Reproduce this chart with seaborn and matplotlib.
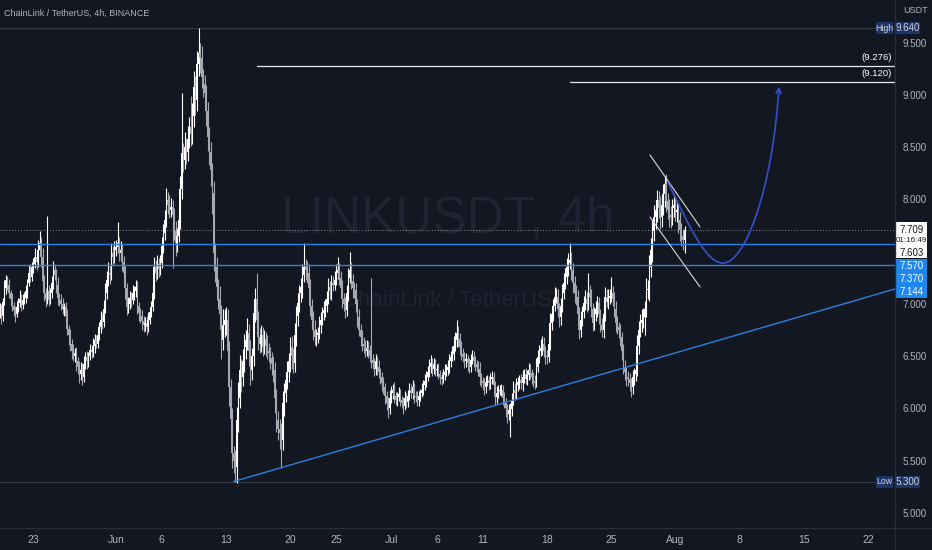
import numpy as np
import pandas as pd
import matplotlib
matplotlib.use("Agg")
import matplotlib.pyplot as plt
import matplotlib.dates as mdates
import seaborn as sns
from matplotlib.patches import Rectangle, FancyArrowPatch
from matplotlib.path import Path
from matplotlib.lines import Line2D
from matplotlib.transforms import blended_transform_factory

# -----------------------------
# Data: LINKUSDT 4h candles, 2022-05-19 08:00 -> 2022-08-02 00:00
# -----------------------------
start_time = "2022-05-19 08:00"
first_open = 6.91

closes = [
    6.95, 6.88, 7.02, 7.15,                     # May 19
    7.23, 7.18, 7.10, 7.05, 6.98, 6.94,         # May 20
    6.90, 6.97, 7.01, 7.05, 6.99, 7.04,
    7.06, 7.12, 7.20, 7.30, 7.26, 7.35,
    7.38, 7.45, 7.40, 7.52, 7.58, 7.45,
    7.22, 7.10, 7.05, 7.12, 7.04, 7.10,
    7.20, 7.32, 7.28, 7.18, 7.06, 7.04,         # May 25
    7.00, 6.95, 6.97, 6.88, 6.76, 6.70,
    6.62, 6.55, 6.50, 6.53, 6.45, 6.40,
    6.33, 6.37, 6.30, 6.42, 6.49, 6.45,
    6.50, 6.56, 6.54, 6.60, 6.65, 6.62,
    6.70, 6.78, 6.85, 6.83, 6.95, 7.10,         # May 30
    7.23, 7.30, 7.28, 7.49, 7.45, 7.52,
    7.54, 7.58, 7.49, 7.52, 7.40, 7.30,         # Jun 1
    7.15, 6.97, 7.00, 7.06, 7.04, 7.10,
    7.12, 7.16, 6.98, 6.91, 6.88, 6.84,
    6.80, 6.82, 6.78, 6.85, 6.92, 6.97,
    7.10, 7.35, 7.30, 7.38, 7.33, 7.39,         # Jun 5
    7.55, 7.68, 7.80, 7.99, 7.95, 7.90,
    7.93, 7.85, 7.70, 7.58, 7.65, 7.80,
    8.10, 8.44, 8.38, 8.50, 8.45, 8.58,
    8.69, 8.63, 8.80, 9.08, 8.95, 9.30,
    9.40, 9.35, 9.17, 9.10, 9.02, 8.85,         # Jun 10
    8.60, 8.45, 8.28, 8.06, 7.49, 7.35,
    7.16, 7.05, 6.90, 6.65, 6.80, 6.85,
    6.85, 6.55, 6.20, 5.90, 5.57, 5.50,
    5.44, 5.89, 6.10, 6.37, 6.30, 6.45,
    6.59, 6.65, 6.72, 6.55, 6.37, 6.50,         # Jun 15
    6.91, 7.05, 6.85, 6.68, 6.62, 6.70,
    6.59, 6.66, 6.60, 6.55, 6.53, 6.48,
    6.42, 6.37, 6.10, 5.89, 5.80, 5.76,
    5.70, 6.05, 6.15, 6.27, 6.35, 6.45,
    6.59, 6.50, 6.43, 6.70, 6.88, 7.01,         # Jun 20
    7.10, 7.16, 7.28, 7.35, 7.32, 7.30,
    7.15, 6.98, 6.85, 6.75, 6.68, 6.70,
    6.72, 6.80, 6.85, 6.91, 6.94, 6.98,
    7.05, 7.16, 7.12, 7.20, 7.18, 7.23,
    7.30, 7.32, 7.25, 7.15, 7.05, 7.00,         # Jun 25
    6.94, 7.10, 7.25, 7.32, 7.22, 7.15,
    7.13, 7.00, 6.87, 6.75, 6.68, 6.62,
    6.60, 6.55, 6.58, 6.56, 6.50, 6.46,
    6.43, 6.38, 6.45, 6.40, 6.35, 6.30,
    6.24, 6.20, 6.12, 6.05, 6.00, 6.10,         # Jun 30
    6.15, 6.18, 6.12, 6.08, 6.11, 6.14,         # Jul 1
    6.08, 6.05, 6.02, 6.10, 6.06, 6.12,
    6.18, 6.15, 6.20, 6.12, 6.11, 6.08,
    6.12, 6.15, 6.18, 6.22, 6.26, 6.30,
    6.35, 6.40, 6.43, 6.38, 6.42, 6.37,         # Jul 5
    6.37, 6.33, 6.30, 6.28, 6.32, 6.35,
    6.37, 6.40, 6.45, 6.49, 6.52, 6.60,
    6.65, 6.72, 6.66, 6.59, 6.52, 6.49,
    6.45, 6.47, 6.43, 6.40, 6.46, 6.49,
    6.45, 6.42, 6.40, 6.38, 6.30, 6.26,         # Jul 10
    6.24, 6.20, 6.25, 6.27, 6.24, 6.28,
    6.30, 6.22, 6.11, 6.15, 6.17, 6.18,
    6.18, 6.10, 6.05, 6.00, 5.95, 5.98,
    5.99, 6.08, 6.18, 6.15, 6.22, 6.25,
    6.27, 6.24, 6.30, 6.33, 6.28, 6.32,         # Jul 15
    6.37, 6.34, 6.30, 6.26, 6.24, 6.40,
    6.49, 6.55, 6.58, 6.62, 6.55, 6.50,
    6.49, 6.62, 6.82, 6.90, 6.98, 7.07,
    7.07, 6.95, 6.87, 6.98, 7.10, 7.20,
    7.26, 7.35, 7.39, 7.42, 7.32, 7.20,         # Jul 20
    7.10, 7.07, 6.90, 6.75, 6.85, 6.92,
    7.01, 7.05, 7.00, 7.10, 7.07, 6.95,
    6.82, 6.90, 6.95, 7.01, 6.90, 6.80,
    6.75, 6.90, 7.07, 7.02, 7.06, 7.08,
    7.10, 7.05, 6.95, 6.82, 6.78, 6.75,         # Jul 25
    6.68, 6.55, 6.40, 6.35, 6.30, 6.28,
    6.24, 6.20, 6.30, 6.33, 6.37, 6.60,
    6.75, 6.82, 6.85, 6.87, 6.95, 7.13,
    7.13, 7.35, 7.52, 7.70, 7.83, 7.90,
    7.99, 7.92, 7.83, 7.95, 8.05, 8.15,         # Jul 30
    7.98, 7.90, 7.85, 7.83, 7.92, 7.95,
    7.88, 7.90, 7.80, 7.71, 7.65, 7.61,         # Aug 1
    7.709,                                      # Aug 2
]

# wick lengths above / below the body, in cents
wick_up = [
    6, 5, 4, 8,
    5, 4, 6, 3, 5, 4,
    4, 6, 5, 8, 4, 5,
    5, 6, 4, 7, 8, 5,
    6, 8, 5, 9, 12, 6,
    8, 6, 5, 72, 6, 5,
    7, 9, 6, 5, 8, 4,
    5, 6, 4, 5, 7, 4,
    6, 4, 7, 5, 6, 4,
    5, 7, 6, 8, 5, 6,
    4, 6, 5, 7, 6, 5,
    6, 5, 8, 6, 9, 10,
    8, 10, 7, 9, 6, 8,
    7, 20, 6, 8, 5, 6,
    6, 5, 7, 6, 5, 8,
    5, 7, 6, 4, 5, 6,
    4, 5, 6, 7, 5, 6,
    8, 10, 7, 9, 6, 8,
    9, 8, 10, 12, 8, 9,
    8, 6, 7, 9, 8, 10,
    12, 58, 10, 14, 9, 12,
    10, 30, 12, 15, 10, 12,
    24, 10, 12, 8, 9, 7,
    8, 9, 10, 7, 12, 9,
    10, 8, 12, 9, 15, 10,
    12, 10, 9, 8, 10, 7,
    10, 12, 15, 14, 10, 12,
    12, 10, 14, 9, 10, 8,
    12, 10, 25, 8, 9, 10,
    8, 9, 7, 10, 8, 6,
    6, 8, 7, 9, 8, 10,
    10, 12, 9, 8, 10, 8,
    9, 10, 8, 12, 10, 9,
    8, 9, 10, 23, 8, 9,
    8, 9, 7, 8, 10, 6,
    6, 8, 7, 6, 9, 7,
    7, 9, 6, 8, 7, 8,
    8, 13, 7, 6, 8, 5,
    7, 8, 9, 18, 8, 7,
    6, 7, 5, 8, 6, 7,
    6, 5, 7, 6, 5, 75,
    6, 5, 7, 5, 6, 4,
    5, 6, 4, 5, 6, 8,
    6, 5, 7, 4, 5, 6,
    5, 4, 6, 7, 5, 6,
    6, 5, 7, 4, 5, 6,
    5, 4, 6, 5, 7, 6,
    6, 7, 8, 5, 6, 5,
    5, 6, 4, 5, 6, 7,
    5, 6, 7, 6, 8, 9,
    8, 13, 7, 6, 5, 6,
    5, 6, 4, 5, 6, 7,
    6, 5, 4, 5, 6, 4,
    4, 5, 6, 5, 4, 6,
    6, 5, 4, 6, 5, 4,
    5, 4, 6, 5, 4, 6,
    6, 7, 8, 6, 7, 5,
    5, 6, 7, 5, 6, 5,
    6, 5, 4, 5, 6, 8,
    7, 6, 8, 7, 6, 5,
    6, 8, 9, 8, 7, 9,
    8, 7, 6, 8, 9, 10,
    8, 9, 10, 16, 8, 7,
    7, 8, 6, 7, 8, 6,
    7, 8, 6, 20, 8, 7,
    6, 7, 8, 7, 6, 5,
    6, 8, 9, 7, 8, 6,
    16, 7, 6, 8, 6, 5,
    6, 5, 7, 6, 5, 6,
    6, 5, 7, 6, 8, 10,
    9, 8, 10, 9, 8, 12,
    10, 12, 11, 10, 12, 9,
    10, 9, 11, 8, 10, 7,
    9, 8, 10, 9, 8, 10,
    8, 9, 7, 8, 6, 7,
    4,
]

wick_dn = [
    5, 7, 4, 3,
    6, 5, 4, 7, 5, 6,
    7, 3, 5, 4, 6, 4,
    4, 5, 6, 3, 5, 4,
    5, 4, 8, 5, 6, 10,
    9, 7, 8, 5, 6, 4,
    4, 6, 5, 8, 7, 6,
    6, 5, 7, 8, 6, 9,
    7, 8, 5, 6, 9, 7,
    9, 6, 8, 5, 4, 7,
    5, 4, 6, 5, 7, 4,
    4, 5, 6, 7, 5, 4,
    5, 6, 9, 5, 8, 6,
    6, 5, 8, 6, 9, 7,
    10, 8, 6, 5, 7, 4,
    6, 5, 8, 7, 6, 9,
    7, 6, 8, 5, 4, 5,
    4, 5, 8, 6, 7, 5,
    5, 6, 7, 6, 9, 8,
    7, 51, 9, 12, 8, 6,
    8, 10, 12, 9, 11, 8,
    9, 12, 10, 11, 14, 10,
    12, 14, 10, 12, 11, 15,
    14, 12, 15, 20, 18, 14,
    12, 10, 14, 18, 9, 12,
    15, 12, 18, 16, 14, 12,
    14, 15, 12, 10, 14, 9,
    10, 12, 9, 14, 15, 10,
    9, 8, 10, 12, 9, 8,
    9, 7, 10, 8, 9, 10,
    10, 12, 14, 12, 10, 15,
    27, 10, 12, 9, 8, 10,
    10, 12, 9, 8, 10, 9,
    9, 8, 10, 7, 9, 10,
    9, 10, 8, 10, 7, 8,
    7, 6, 8, 5, 6, 7,
    6, 5, 7, 8, 6, 5,
    5, 6, 7, 8, 9, 7,
    8, 6, 7, 5, 8, 9,
    7, 8, 9, 6, 8, 7,
    7, 6, 5, 8, 6, 7,
    5, 7, 6, 8, 6, 7,
    7, 6, 8, 7, 9, 5,
    5, 6, 7, 5, 6, 4,
    6, 5, 7, 4, 6, 5,
    4, 5, 6, 7, 5, 6,
    6, 5, 4, 5, 4, 6,
    4, 5, 6, 7, 5, 6,
    6, 5, 7, 6, 4, 5,
    4, 5, 6, 5, 4, 6,
    5, 6, 7, 8, 6, 5,
    6, 5, 7, 6, 5, 4,
    5, 6, 5, 7, 8, 6,
    6, 7, 5, 4, 6, 5,
    5, 6, 8, 6, 5, 4,
    6, 7, 5, 8, 9, 6,
    25, 6, 5, 7, 6, 5,
    6, 5, 7, 6, 5, 6,
    5, 6, 7, 6, 5, 4,
    5, 6, 5, 7, 6, 8,
    7, 5, 6, 7, 6, 5,
    6, 8, 9, 7, 6, 5,
    6, 7, 8, 6, 9, 10,
    9, 8, 10, 9, 7, 6,
    6, 7, 8, 6, 9, 8,
    8, 7, 6, 8, 9, 7,
    7, 8, 6, 5, 7, 6,
    6, 7, 8, 9, 7, 8,
    8, 9, 7, 8, 9, 7,
    7, 9, 6, 8, 7, 6,
    8, 7, 9, 8, 17, 8,
    8, 10, 9, 12, 10, 11,
    12, 10, 11, 9, 10, 12,
    10, 9, 11, 10, 8, 9,
    9, 10, 12, 11, 10, 9,
    12,
]

# drawings
high_price, low_price = 9.640, 5.300
last_price = 7.709
blue_levels = [7.570, 7.370]
target_levels = [9.276, 9.120]
target_starts = ["2022-06-16 10:00", "2022-07-20 12:00"]
trend_dates = ["2022-06-13 20:00", "2022-08-25 00:00"]
trend_prices = [5.300, 7.144]
channel_dates = ["2022-07-29 05:30", "2022-08-03 16:30"]
channel_upper = [8.425, 7.736]
channel_lower = [7.831, 7.162]
curve_dates = ["2022-07-31 04:48", "2022-08-02 12:00", "2022-08-04 07:12", "2022-08-06 04:48",
               "2022-08-08 14:24", "2022-08-11 14:24", "2022-08-12 07:12"]
curve_prices = [8.16, 7.75, 7.39, 7.39, 7.39, 8.10, 9.08]

tick_dates = ["2022-05-23", "2022-06-01", "2022-06-06", "2022-06-13", "2022-06-20", "2022-06-25",
              "2022-07-01", "2022-07-06", "2022-07-11", "2022-07-18", "2022-07-25", "2022-08-01",
              "2022-08-08", "2022-08-15", "2022-08-22"]
tick_labels = ["23", "Jun", "6", "13", "20", "25", "Jul", "6", "11", "18", "25", "Aug", "8", "15", "22"]
price_ticks = [5.0, 5.5, 6.0, 6.5, 7.0, 8.0, 8.5, 9.0, 9.5]

# -----------------------------
# Style
# -----------------------------
BG = "#131722"
TXT = "#b2b5be"
BLUE = "#2f7fe8"
DARKBLUE = "#1c3564"

sns.set_theme(style="dark", rc={"axes.facecolor": BG, "figure.facecolor": BG})
plt.rcParams["font.family"] = ["Liberation Sans", "DejaVu Sans"]

fig = plt.figure(figsize=(9.32, 5.5), dpi=100)
ax = fig.add_axes([0, 22 / 550, 895 / 932, 528 / 550])
ax.set_facecolor(BG)

num = lambda s: mdates.date2num(pd.to_datetime(s))

# -----------------------------
# Candles
# -----------------------------
times = pd.date_range(start_time, periods=len(closes), freq="4h")
t = mdates.date2num(times)
c = np.array(closes)
o = np.array([first_open] + closes[:-1])
hi = np.maximum(o, c) + np.array(wick_up) / 100
lo = np.minimum(o, c) - np.array(wick_dn) / 100
cols = np.where(c >= o, "#ffffff", "#a5a8b1")

ax.vlines(t, lo, hi, colors=cols, lw=0.8, zorder=3)
ax.bar(t, np.maximum(np.abs(c - o), 0.01), bottom=np.minimum(o, c), width=0.155,
       color=cols, lw=0, zorder=4)

# -----------------------------
# Watermark
# -----------------------------
ax.text(0.5, 0.585, "LINKUSDT, 4h", transform=ax.transAxes, ha="center", va="center",
        fontsize=37, color="#1f2332", zorder=1)
ax.text(0.5, 0.43, "ChainLink / TetherUS", transform=ax.transAxes, ha="center", va="center",
        fontsize=16, color="#1f2332", zorder=1)

# -----------------------------
# Lines and drawings
# -----------------------------
ax.axhline(high_price, color="#363a45", lw=0.8, zorder=2)
ax.axhline(low_price, color="#363a45", lw=0.8, zorder=2)
ax.axhline(last_price, color="#8a8d96", lw=0.7, ls=(0, (1, 2)), zorder=2)
for lvl in blue_levels:
    ax.axhline(lvl, color=BLUE, lw=1.0, zorder=5)

xmin, xmax = num("2022-05-19 08:24"), num("2022-08-24 22:48")
for lvl, st in zip(target_levels, target_starts):
    ax.plot([num(st), xmax], [lvl, lvl], color="#e8e8e8", lw=0.9, zorder=5)

# trend ray
tx = [num(d) for d in trend_dates]
slope = (trend_prices[1] - trend_prices[0]) / (tx[1] - tx[0])
ax.plot([tx[0], xmax + 5], [trend_prices[0], trend_prices[0] + slope * (xmax + 5 - tx[0])],
        color="#2e7fdc", lw=1.0, zorder=5)

# falling channel
cx = [num(d) for d in channel_dates]
ax.plot(cx, channel_upper, color="#d8d8d8", lw=0.8, zorder=5)
ax.plot(cx, channel_lower, color="#d8d8d8", lw=0.8, zorder=5)

# projected path
verts = list(zip([num(d) for d in curve_dates], curve_prices))
codes = [Path.MOVETO] + [Path.CURVE4] * 6
arrow = FancyArrowPatch(path=Path(verts, codes), arrowstyle="->", mutation_scale=9,
                        color="#3550c8", lw=1.2, zorder=6)
ax.add_patch(arrow)

ax.set_xlim(xmin, xmax)
ax.set_ylim(4.855, 9.908)

# -----------------------------
# Axes / ticks
# -----------------------------
for s in ["top", "left", "right", "bottom"]:
    ax.spines[s].set_visible(False)
ax.grid(False)
ax.yaxis.tick_right()
ax.set_yticks(price_ticks)
ax.set_yticklabels([f"{v:.3f}" for v in price_ticks])
ax.tick_params(axis="y", length=0, pad=5.5, labelsize=7, labelcolor=TXT)
ax.set_xticks([num(d) for d in tick_dates])
ax.set_xticklabels(tick_labels)
ax.tick_params(axis="x", length=0, pad=5, labelsize=7.5, labelcolor=TXT)

fig.add_artist(Line2D([0, 1], [22 / 550, 22 / 550], color="#2a2e39", lw=1))
fig.add_artist(Line2D([895 / 932, 895 / 932], [0, 1], color="#2a2e39", lw=1))

# -----------------------------
# Price scale labels
# -----------------------------
tr = blended_transform_factory(ax.transAxes, ax.transData)
px = 104.5  # pixels per 1.0 of price


def box(x0, x1, y_top, y_bot, fc, z=8):
    ax.add_patch(Rectangle((x0 / 895, y_bot), (x1 - x0) / 895, y_top - y_bot, transform=tr,
                           facecolor=fc, edgecolor="none", clip_on=False, zorder=z))


def lab(x, y, s, col, size=7, ha="center"):
    ax.text(x / 895, y, s, transform=tr, ha=ha, va="center", fontsize=size, color=col,
            clip_on=False, zorder=9)


for price, name in [(high_price, "High"), (low_price, "Low")]:
    h = 6 / px
    box(876, 893, price + h, price - h, DARKBLUE)
    lab(884.5, price, name, "#d1d4dc", size=6.3)
    box(896, 920, price + h, price - h, DARKBLUE)
    lab(908, price, f"{price:.3f}", "#d1d4dc")

# current price box
box(896, 927, last_price + 8 / px, last_price - 18 / px, "#ffffff")
lab(911.5, last_price, f"{last_price:.3f}", "#131722")
lab(911.5, last_price - 11 / px, "01:16:49", "#131722", size=5.8)
box(896, 927, last_price - 18 / px, last_price - 28 / px, "#ffffff")
lab(911.5, last_price - 23 / px, "7.603", "#131722")
box(896, 927, last_price - 29 / px, last_price - 68 / px, "#1e88f0")
for k, s in enumerate(["7.570", "7.370", "7.144"]):
    lab(911.5, last_price - (36 + 13 * k) / px, s, "#ffffff")

ax.text(903 / 895, 9.812, "USDT", transform=tr, ha="left", va="center", fontsize=6.5,
        color=TXT, clip_on=False)

for lvl in target_levels:
    ax.annotate(f"({lvl:.3f})", xy=(892 / 895, lvl), xycoords=tr, xytext=(0, 3),
                textcoords="offset points", ha="right", va="bottom", fontsize=6.8,
                color="#ffffff", zorder=9)

fig.text(4 / 932, 1 - 13 / 550, "ChainLink / TetherUS, 4h, BINANCE", ha="left", va="center",
         fontsize=6.5, color=TXT)

plt.savefig("out.png", dpi=100, facecolor=BG)
